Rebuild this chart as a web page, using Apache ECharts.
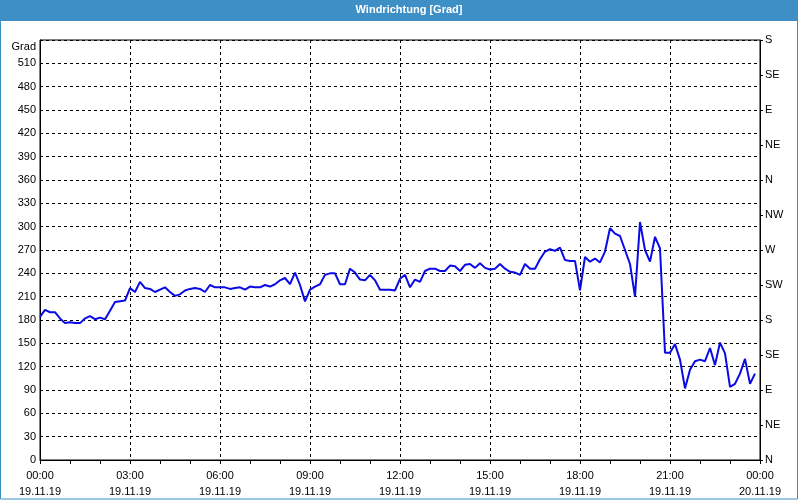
<!DOCTYPE html>
<html>
<head>
<meta charset="utf-8">
<script src="https://cdn.jsdelivr.net/npm/echarts@6/dist/echarts.min.js"></script>
<style>html,body{margin:0;padding:0;background:#fff}#c{width:800px;height:500px}</style>
</head>
<body>
<div id="c"></div>
<script>
// minutes since 19.11.19 00:00
var times = [0,10,20,30,40,50,60,70,80,90,100,110,120,130,140,150,160,170,180,190,200,210,220,230,240,250,260,270,280,290,300,310,320,330,340,350,360,370,380,390,400,410,420,430,440,450,460,470,480,490,500,510,520,530,540,550,560,570,580,590,600,610,620,630,640,650,660,670,680,690,700,710,720,730,740,750,760,770,780,790,800,810,820,830,840,850,860,870,880,890,900,910,920,930,940,950,960,970,980,990,1000,1010,1020,1030,1040,1050,1060,1070,1080,1090,1100,1110,1120,1130,1140,1150,1160,1170,1180,1190,1200,1210,1220,1230,1240,1250,1260,1270,1280,1290,1300,1310,1320,1330,1340,1350,1360,1370,1380,1390,1400,1410,1420,1430];
var dirs = [184,193,190,190,182,176,177,176,176,182,185,181,183,181,192,203,204,205,221,216,229,221,220,216,219,222,216,211,213,218,220,221,220,216,225,222,222,222,220,221,222,219,223,222,222,225,223,226,231,234,226,241,225,204,219,223,226,238,240,240,226,226,246,241,232,231,238,231,219,219,219,218,233,238,222,232,229,243,246,246,243,243,250,249,243,251,252,247,253,247,245,246,252,246,242,241,238,252,246,246,258,268,271,269,273,257,256,256,218,261,255,259,254,268,298,291,288,270,252,210,306,270,255,287,272,138,138,149,129,92,116,127,129,127,144,122,151,137,94,98,111,130,98,111];
var yTicks = [0,30,60,90,120,150,180,210,240,270,300,330,360,390,420,450,480,510];
var compass = ['N','NE','E','SE','S','SW','W','NW'];
var xDates = ['19.11.19','19.11.19','19.11.19','19.11.19','19.11.19','19.11.19','19.11.19','19.11.19','20.11.19'];
var titleText = 'Windrichtung [Grad]';
var unitText = 'Grad';

var data = times.map(function(t,i){return [t, dirs[i]];});
var font = '"Liberation Sans", Arial, sans-serif';
var chart = echarts.init(document.getElementById('c'), null, {renderer:'canvas'});
function pad(n){return (n<10?'0':'')+n;}
chart.setOption({
  animation:false,
  backgroundColor:'#ffffff',
  textStyle:{fontFamily:font},
  graphic:[
    {type:'rect', shape:{x:0,y:0,width:798,height:21}, style:{fill:'#3d8fc6'}, z:10},
    {type:'rect', shape:{x:0.5,y:0.5,width:797,height:498.5}, style:{fill:null, stroke:'#3d8fc6', lineWidth:1}, z:10},
    {type:'text', x:409, y:10, style:{text:titleText, fill:'#ffffff', font:'bold 11px '+font, textAlign:'center', textVerticalAlign:'middle'}, z:11},
    {type:'text', x:36, y:47, style:{text:unitText, fill:'#000', font:'11px '+font, textAlign:'right', textVerticalAlign:'middle'}, z:11}
  ],
  grid:{left:40,right:40,top:40,bottom:40,show:true,borderColor:'#000',borderWidth:1,backgroundColor:'#fff'},
  xAxis:{
    type:'value', min:0, max:1440, interval:180,
    axisLine:{show:true,lineStyle:{color:'#000',width:1}},
    axisTick:{show:true,length:4,lineStyle:{color:'#000'}},
    minorTick:{show:true,splitNumber:3,length:4,lineStyle:{color:'#000'}},
    splitLine:{show:true,lineStyle:{color:'#000',type:[3,3],width:1}},
    axisLabel:{
      margin:8, color:'#000', fontSize:11, lineHeight:16, fontFamily:font,
      formatter:function(v){var h=Math.floor(v/60)%24, m=v%60; return pad(h)+':'+pad(m)+'\n'+xDates[Math.round(v/180)];}
    }
  },
  yAxis:[
    {
      type:'value', min:0, max:540, interval:30, position:'left',
      axisLine:{show:true,lineStyle:{color:'#000'}},
      axisTick:{show:false},
      splitLine:{show:true,lineStyle:{color:'#000',type:[3,3],width:1}},
      axisLabel:{margin:4,color:'#000',fontSize:11,fontFamily:font,padding:[4,0,0,0],
        formatter:function(v){return yTicks.indexOf(v)>=0 ? String(v) : '';}}
    },
    {
      type:'value', min:0, max:540, interval:45, position:'right',
      axisLine:{show:true,lineStyle:{color:'#000'}},
      axisTick:{show:true,length:3,lineStyle:{color:'#000'}},
      splitLine:{show:false},
      axisLabel:{margin:5,color:'#000',fontSize:11,fontFamily:font,padding:[4,0,0,0],
        formatter:function(v){return compass[Math.round(v/45)%8];}}
    }
  ],
  series:[{
    type:'line', data:data, yAxisIndex:0, showSymbol:false, smooth:false,
    lineStyle:{color:'#0a0ae6',width:2}, itemStyle:{color:'#0a0ae6'}
  }]
});
</script>
</body>
</html>
